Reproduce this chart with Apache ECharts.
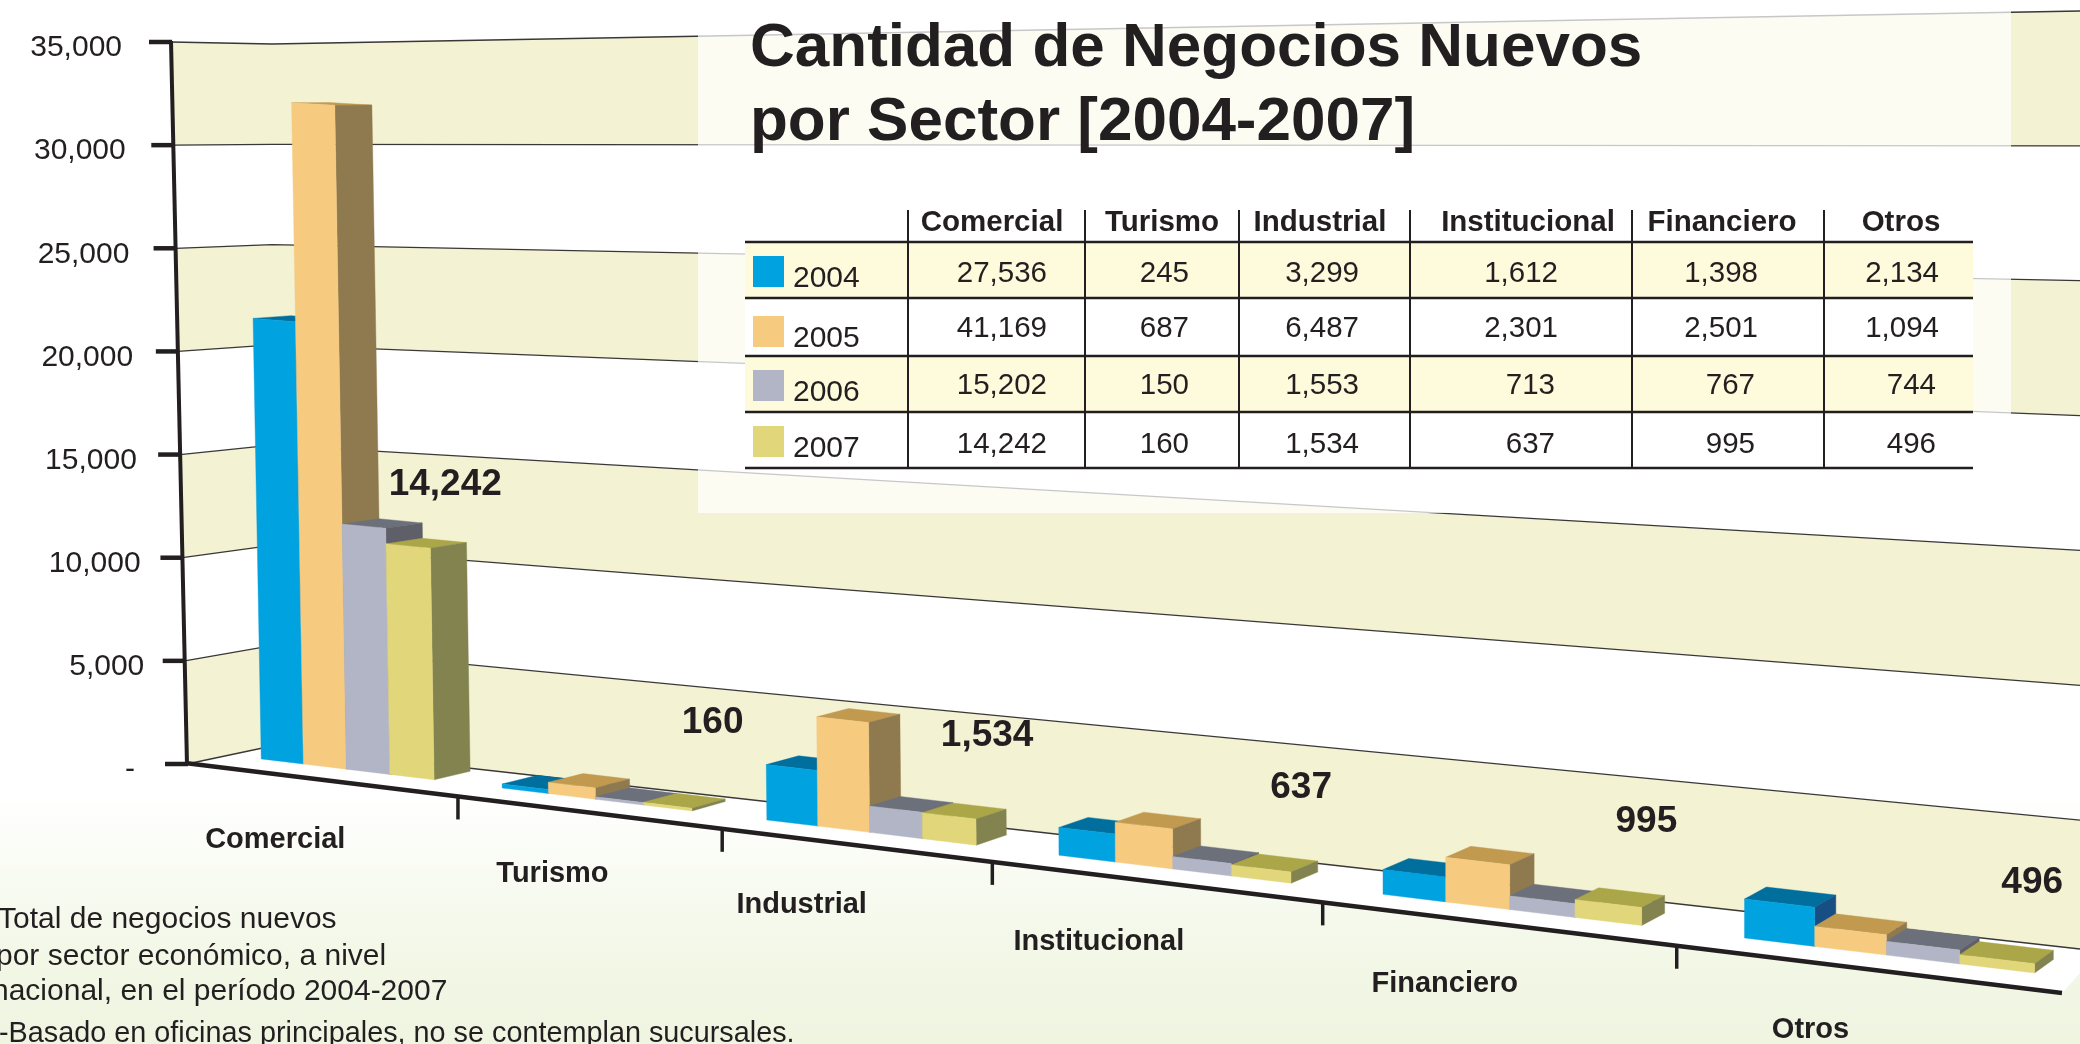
<!DOCTYPE html>
<html><head><meta charset="utf-8">
<style>html,body{margin:0;padding:0;background:#fff}#c{width:2080px;height:1044px}</style>
<script src="https://cdn.jsdelivr.net/npm/echarts@6/dist/echarts.min.js"></script>
</head><body><div id="c"></div>
<script>
// ---------- data ----------
const categories = ['Comercial','Turismo','Industrial','Institucional','Financiero','Otros'];
const years = ['2004','2005','2006','2007'];
const values2004 = [27536,245,3299,1612,1398,2134];
const values2005 = [41169,687,6487,2301,2501,1094];
const values2006 = [15202,150,1553,713,767,744];
const values2007 = [14242,160,1534,637,995,496];
const yTicks = [0,5000,10000,15000,20000,25000,30000,35000];
const titleLines = ['Cantidad de Negocios Nuevos','por Sector [2004-2007]'];
const noteLines = ['Total de negocios nuevos','por sector económico, a nivel','nacional, en el período 2004-2007','-Basado en oficinas principales, no se contemplan sucursales.'];
const seriesValues = [values2004,values2005,values2006,values2007];

// ---------- style ----------
const INK='#231f20', FONT='"Liberation Sans",Arial,sans-serif', BEIGE='#f3f2d3';
const faces=[
 {front:'#00a2e0',top:'#006f9e',side:'#174f85'},
 {front:'#f6cb80',top:'#c19a50',side:'#8f7a4f'},
 {front:'#b2b5c6',top:'#6b707b',side:'#5f5f69'},
 {front:'#e2d67b',top:'#aba648',side:'#82834f'}];
const fmt=v=>v.toLocaleString('en-US');

// ---------- perspective: grid position -> picture position ----------
const G={left:187,right:18,top:42,bottom:280};
const BW=.1817, CL=-.3635;
const px=s=>(217.1*s+230)/(1-.04457*s);        // category position along the floor
const baseY=x=>759+.1207*(x-262);              // foot line of bar fronts
const rise=x=>.7756+(x-262)*(.9065-.7756)/1773;// bar height per grid pixel
const lean=x=>-.0185*Math.max(0,1-(x-262)/1240);
function front(s,h){const x0=px(s),H=h*rise(x0);return [x0+lean(x0)*H,baseY(x0)-H];}
function back(p,s){const x0=px(s),dx=36-.0108*(p[0]-435),dy=(8.5+.0031*(p[0]-435))*(p[1]-90)/(baseY(x0)-90);return [p[0]+dx,p[1]-dy];}
const axisX=f=>187-16*f;
const axisY=f=>764-722*f;
const wallL=f=>[272,746-702*f];
const wallR=f=>[2080,f===0?949:955-944*f];
const poly=(points,fill,extra)=>({type:'polygon',shape:{points},style:{fill,stroke:fill,lineWidth:.4},...extra});
const seg=(a,b,w,c)=>({type:'line',shape:{x1:a[0],y1:a[1],x2:b[0],y2:b[1]},style:{stroke:c||INK,lineWidth:w,lineCap:'butt'}});
const txt=(t,x,y,size,bold,align)=>({type:'text',x,y:y+2,style:{text:t,fill:INK,font:(bold?'bold ':'')+size+'px '+FONT,textAlign:align||'center',textVerticalAlign:'middle'}});

function fracOf(api,params,v){const c=params.coordSys;return (c.y+c.height-api.coord([0,v])[1])/c.height;}

function renderWall(params,api){
  const i=params.dataIndex,t=api.value(1),f=fracOf(api,params,t),ch=[];
  const ax=[axisX(f),axisY(f)],L=wallL(f),R=wallR(f);
  if(i===0) ch.push(poly([[axisX(0),axisY(0)],wallL(0),wallR(0),[2080,973],[2062,993]],'#fff'));
  if(i%2===0&&i<yTicks.length-1){
    const g=fracOf(api,params,yTicks[i+1]);
    ch.push(poly([ax,L,R,wallR(g),wallL(g),[axisX(g),axisY(g)]],BEIGE));
  }
  ch.push({type:'polyline',shape:{points:[ax,L,R]},style:{stroke:'#3a3738',lineWidth:1.3,fill:null}});
  return {type:'group',children:ch};
}
function renderAxis(params,api){
  const i=params.dataIndex,f=fracOf(api,params,api.value(1)),x=axisX(f),y=axisY(f);
  const label=yTicks[i]===0?'-':fmt(yTicks[i]);
  const gap=yTicks[i]===0?52:39+10*f;
  return {type:'group',children:[
    seg([x-22,y],[x+1,y],4.5),
    txt(label,x-gap,y+4,30,false,'right')
  ]};
}
function renderAxisLines(){
  return {type:'group',children:[seg([axisX(1),axisY(1)-1],[axisX(0),axisY(0)+1],4),seg([185,763],[2062,993],4.5)]};
}
const catShift=[-71,-43,-68,-74,-65,-76];
const tickShift=[-10,-7,-25,-14,-16];
function renderCategory(params,api){
  const c=params.coordSys,i=params.dataIndex,bw=api.size([1,0])[0];
  const s=(api.coord([i,0])[0]-c.x)/bw;
  const lx=px(s)+catShift[i], ch=[txt(categories[i],lx,838+.1235*(lx-276),29,true)];
  if(i<categories.length-1){
    const tx=px(s+.5)+tickShift[i],ty=763+.1225*(tx-185);
    ch.push(seg([tx,ty],[tx,ty+23],3.5));
  }
  return {type:'group',children:ch};
}
const labelNudge=[[37,-63],[45,-85],[38,-82],[40,-83],[38,-84],[35,-78]];
const renderBar=k=>(params,api)=>{
  const c=params.coordSys,i=api.value(0),bw=api.size([1,0])[0];
  const base=api.coord([i,0]),top=api.coord([i,api.value(1)]);
  const s0=(base[0]-c.x)/bw+CL+k*BW,s1=s0+BW,h=base[1]-top[1];
  const fa=front(s0,0),fb=front(s1,0),fc=front(s1,h),fd=front(s0,h);
  const bc=back(fc,s1),bd=back(fd,s0),bb=back(fb,s1);
  const col=faces[k],ch=[
    poly([fd,fc,bc,bd],col.top),
    poly([fb,fc,bc,bb],col.side),
    poly([fa,fb,fc,fd],col.front)];
  if(k===3){const n=labelNudge[i];ch.push(txt(fmt(api.value(1)),(fc[0]+fd[0])/2+n[0],(fc[1]+fd[1])/2+n[1],37,true));}
  return {type:'group',children:ch};
};

// ---------- table ----------
const colLines=[908,1085,1239,1410,1632,1824];
const headX=[992,1162,1320,1528,1722,1901];
const valX=[1047,1189,1359,1558,1758,1939];
const rowLines=[242,298,356,412,468];
const rowValY=[272,327,384,443];
const yearY=[277,337,391,447];
const swatchY=[256,316,370,426];
const T=[];
T.push({type:'rect',shape:{x:698,y:0,width:1313,height:513},style:{fill:'rgba(255,255,255,.72)'},z:10});
titleLines.forEach((t,i)=>T.push({...txt(t,750,47+i*74,62,true,'left'),z:12}));
years.forEach((y,r)=>{
  T.push({type:'rect',shape:{x:745,y:rowLines[r],width:1228,height:rowLines[r+1]-rowLines[r]},style:{fill:r%2?'#fff':'#fefbdc'},z:11});
  T.push({type:'rect',shape:{x:753,y:swatchY[r],width:31,height:31},style:{fill:faces[r].front},z:12});
  T.push({...txt(y,793,yearY[r],30,false,'left'),z:12});
  categories.forEach((c,j)=>{
    const v=seriesValues[r][j];
    T.push({...txt(fmt(v),valX[j]-(j>=3&&v<1000?3:0),rowValY[r],29.5,false,'right'),z:12});
  });
});
categories.forEach((c,j)=>{
  T.push({...txt(c,headX[j],221,29.5,true),z:12});
  T.push({type:'line',shape:{x1:colLines[j],y1:210,x2:colLines[j],y2:468},style:{stroke:INK,lineWidth:2},z:13});
});
rowLines.forEach(y=>T.push({type:'line',shape:{x1:745,y1:y,x2:1973,y2:y},style:{stroke:INK,lineWidth:2.5},z:13}));
[[-2,918,30],[-4,955,30],[-8,990,30],[-1,1032,28.8]].forEach((p,i)=>T.push({...txt(noteLines[i],p[0],p[1],p[2],false,'left'),z:12}));

// ---------- chart ----------
const chart=echarts.init(document.getElementById('c'),null,{renderer:'canvas'});
chart.setOption({
  animation:false,
  backgroundColor:{type:'linear',x:0,y:0,x2:0,y2:1,colorStops:[{offset:0,color:'#fff'},{offset:.76,color:'#fff'},{offset:.92,color:'#f2f7e6'},{offset:1,color:'#eff5e1'}]},
  grid:G,
  xAxis:{type:'category',data:categories,show:false},
  yAxis:{type:'value',min:0,max:35000,interval:5000,show:false},
  series:[
    {type:'custom',name:'wall',z:1,silent:true,renderItem:renderWall,encode:{x:0,y:1},data:yTicks.map(t=>[0,t])},
    {type:'custom',name:'y-axis',z:3,silent:true,renderItem:renderAxis,encode:{x:0,y:1},data:yTicks.map(t=>[0,t])},
    {type:'custom',name:'axis-lines',z:3,silent:true,renderItem:renderAxisLines,encode:{x:0,y:1},data:[[0,0]]},
    {type:'custom',name:'categories',z:3,silent:true,renderItem:renderCategory,encode:{x:0,y:1},data:categories.map((c,i)=>[i,0])},
    ...years.map((y,k)=>({type:'custom',name:y,z:4+k,renderItem:renderBar(k),encode:{x:0,y:1},data:seriesValues[k].map((v,i)=>[i,v])}))
  ],
  graphic:T
});
</script></body></html>
